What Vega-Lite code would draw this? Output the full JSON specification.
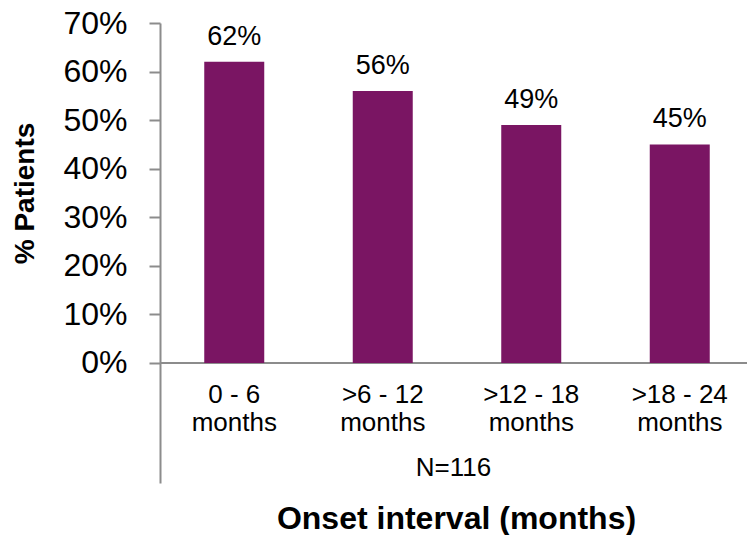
{
  "$schema": "https://vega.github.io/schema/vega-lite/v6.json",
  "autosize": "none",
  "width": 587,
  "height": 460,
  "padding": {"left": 160, "top": 23, "right": 0, "bottom": 52},
  "background": "white",
  "config": {
    "view": {"stroke": null},
    "font": "Liberation Sans",
    "text": {"font": "Liberation Sans"}
  },
  "data": {
    "values": [
      {"interval": "0 - 6\nmonths", "pct": 0.62},
      {"interval": ">6 - 12\nmonths", "pct": 0.56},
      {"interval": ">12 - 18\nmonths", "pct": 0.49},
      {"interval": ">18 - 24\nmonths", "pct": 0.45}
    ]
  },
  "layer": [
    {
      "mark": {"type": "rule", "color": "#8c8c8c", "strokeWidth": 2},
      "encoding": {
        "y": {"datum": 0, "type": "quantitative", "title": "% Patients"}
      }
    },
    {
      "mark": {"type": "bar", "color": "#7a1563"},
      "encoding": {
        "x": {
          "field": "interval",
          "type": "nominal",
          "sort": null,
          "title": "Onset interval (months)",
          "scale": {"range": [0, 594], "paddingInner": 0.596, "paddingOuter": 0.298},
          "axis": {
            "orient": "bottom",
            "labels": false,
            "ticks": false,
            "domain": false,
            "titleFont": "Liberation Sans",
            "titleFontSize": 32,
            "titleFontWeight": "bold",
            "titleColor": "black",
            "titleBaseline": "alphabetic",
            "titleY": 45,
            "titleX": 296
          }
        },
        "y": {
          "field": "pct",
          "type": "quantitative",
          "title": "% Patients",
          "scale": {"domain": [-0.2471, 0.7], "nice": false, "zero": false},
          "axis": {
            "values": [0, 0.1, 0.2, 0.3, 0.4, 0.5, 0.6, 0.7],
            "format": ".0%",
            "grid": false,
            "domainColor": "#8c8c8c",
            "domainWidth": 2,
            "tickColor": "#8c8c8c",
            "tickWidth": 2,
            "tickSize": 11,
            "labelPadding": 22,
            "labelFont": "Liberation Sans",
            "labelFontSize": 32,
            "labelColor": "black",
            "titleFont": "Liberation Sans",
            "titleFontSize": 28,
            "titleFontWeight": "bold",
            "titleColor": "black",
            "titleBaseline": "alphabetic",
            "titleX": -127,
            "titleY": 170
          }
        }
      }
    },
    {
      "mark": {"type": "text", "fontSize": 27, "baseline": "alphabetic", "dy": -17, "color": "black"},
      "encoding": {
        "x": {"field": "interval", "type": "nominal", "sort": null, "title": "Onset interval (months)"},
        "y": {"field": "pct", "type": "quantitative", "title": "% Patients"},
        "text": {"field": "pct", "type": "quantitative", "format": ".0%"}
      }
    },
    {
      "mark": {"type": "text", "fontSize": 26, "baseline": "alphabetic", "lineBreak": "\n", "lineHeight": 28, "color": "black"},
      "encoding": {
        "x": {"field": "interval", "type": "nominal", "sort": null, "title": "Onset interval (months)"},
        "y": {"datum": -0.0824, "type": "quantitative"},
        "text": {"field": "interval", "type": "nominal"}
      }
    },
    {
      "data": {"values": [{"note": "N=116"}]},
      "mark": {"type": "text", "fontSize": 26, "baseline": "alphabetic", "color": "black"},
      "encoding": {
        "y": {"datum": -0.2327, "type": "quantitative"},
        "text": {"field": "note", "type": "nominal"}
      }
    }
  ]
}
